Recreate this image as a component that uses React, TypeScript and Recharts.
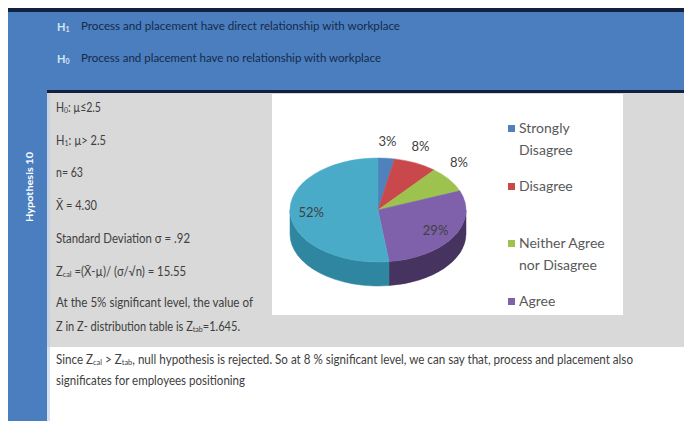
import React from "react";
import { PieChart, Pie, Cell, Legend } from "recharts";

const categories = ["Strongly Disagree", "Disagree", "Neither Agree nor Disagree", "Agree", "Strongly Agree"];
const percents = [3, 8, 8, 29, 52];
const topColors = ["#4F81BD", "#C9484B", "#9DC24E", "#7F60AA", "#4AABC9"];
const sideColors = ["#375F8E", "#8E2F31", "#6E8C33", "#46335F", "#2F86A0"];

const data = categories.map((name, i) => ({ name, value: percents[i] }));

const RY_RATIO = 52 / 88;
const DEPTH = 24;
const RAD = Math.PI / 180;

function pt(cx: number, cy: number, r: number, a: number): [number, number] {
  return [cx + r * Math.cos(a * RAD), cy - r * RY_RATIO * Math.sin(a * RAD)];
}

function TopSector(props: any) {
  const { cx, cy, outerRadius, startAngle, endAngle, fill } = props;
  const [x1, y1] = pt(cx, cy, outerRadius, startAngle);
  const [x2, y2] = pt(cx, cy, outerRadius, endAngle);
  const delta = Math.abs(endAngle - startAngle);
  const large = delta > 180 ? 1 : 0;
  const sweep = startAngle > endAngle ? 1 : 0;
  const d = `M${cx},${cy} L${x1},${y1} A${outerRadius},${outerRadius * RY_RATIO} 0 ${large} ${sweep} ${x2},${y2} Z`;
  return <path d={d} fill={fill} stroke={fill} strokeWidth={0.5} />;
}

function WallSector(props: any) {
  const { cx, cy, outerRadius, startAngle, endAngle, fill } = props;
  const r = outerRadius;
  const lo = Math.min(startAngle, endAngle);
  const hi = Math.max(startAngle, endAngle);
  const parts: React.ReactElement[] = [];
  for (let k = -2; k <= 2; k++) {
    const a = Math.max(lo, -180 + 360 * k);
    const b = Math.min(hi, 360 * k);
    if (b > a) {
      const [ax, ay] = pt(cx, cy, r, a);
      const [bx, by] = pt(cx, cy, r, b);
      const large = b - a > 180 ? 1 : 0;
      const d = `M${ax},${ay} A${r},${r * RY_RATIO} 0 ${large} 0 ${bx},${by} L${bx},${by + DEPTH} A${r},${r * RY_RATIO} 0 ${large} 1 ${ax},${ay + DEPTH} Z`;
      parts.push(<path key={k} d={d} fill={fill} stroke={fill} strokeWidth={0.5} />);
    }
  }
  return <g>{parts}</g>;
}

const renderLabel = (p: any) => {
  const { cx, cy, midAngle, outerRadius, percent, index } = p;
  const c = Math.cos(midAngle * RAD);
  const s = Math.sin(midAngle * RAD);
  let x: number;
  let y: number;
  if (percent < 0.1) {
    x = cx + outerRadius * c + 12 * c;
    y = cy - outerRadius * RY_RATIO * s - 17;
  } else {
    x = cx + 0.76 * outerRadius * c;
    y = cy - 0.76 * outerRadius * RY_RATIO * s;
  }
  return (
    <text x={x} y={y} textAnchor="middle" dominantBaseline="central" fill="#404040" fontSize={13} fontFamily="Lato, sans-serif">
      {`${percents[index]}%`}
    </text>
  );
};

const renderLegend = (props: any) => {
  const raw = (props.payload || []) as any[];
  const items = raw
    .filter((e) => topColors.includes(e.color))
    .sort((a, b) => categories.indexOf(a.value) - categories.indexOf(b.value));
  return (
    <div style={{ position: "relative", width: 115, height: 300 }}>
      {items.map((e: any, i: number) => (
        <div key={i} style={{ position: "absolute", top: i * 57.5, left: 0, display: "flex", alignItems: "flex-start" }}>
          <div style={{ width: 7, height: 7, background: e.color, marginTop: 8, marginRight: 4 }} />
          <div style={{ width: 95, fontFamily: "Lato, sans-serif", fontSize: 14, lineHeight: "22px", color: "#595959" }}>{e.value}</div>
        </div>
      ))}
    </div>
  );
};

const FONT = "Lato, 'Open Sans', sans-serif";

function T(props: any) {
  const { x, y, w, size = 12.5, fill = "#404040", weight, children } = props;
  return (
    <text x={x} y={y} textLength={w} lengthAdjust="spacingAndGlyphs" fontFamily={FONT} fontSize={size} fill={fill} fontWeight={weight} dominantBaseline="central">
      {children}
    </text>
  );
}

function Sub(props: any) {
  return (
    <>
      <tspan fontSize={8} dy={3}>{props.children}</tspan>
      <tspan dy={-3}>{props.after}</tspan>
    </>
  );
}

export default function App() {
  return (
    <div style={{ position: "absolute", left: 0, top: 0, width: 684, height: 421, background: "#fff", overflow: "hidden" }}>
      <svg width={684} height={421} style={{ position: "absolute", left: 0, top: 0 }}>
        <rect x={8} y={8} width={676} height={4} fill="#12213d" />
        <rect x={8} y={12} width={676} height={79} fill="#4a7ebe" />
        <rect x={8} y={12} width={39} height={409} fill="#4a7ebe" />
        <rect x={47} y={90} width={637} height={3} fill="#12213d" />
        <rect x={47} y={93} width={637} height={254} fill="#d9d9d9" />
        <rect x={47} y={347} width={637} height={74} fill="#ffffff" />
        <rect x={47} y={93} width={3} height={328} fill="#b9cde6" opacity={0.6} />

        <text x={57} y={26} fontFamily={FONT} fontSize={11} fontWeight="bold" fill="#d6e4f5" dominantBaseline="central">
          H<tspan fontSize={7} dy={3}>1</tspan>
        </text>
        <text x={57} y={58} fontFamily={FONT} fontSize={11} fontWeight="bold" fill="#d6e4f5" dominantBaseline="central">
          H<tspan fontSize={7} dy={3}>0</tspan>
        </text>
        <T x={81} y={25} w={319} size={12} fill="#172a4c">Process and placement have direct relationship with workplace</T>
        <T x={81} y={57} w={300} size={12} fill="#172a4c">Process and placement have no relationship with workplace</T>

        <text transform="translate(29,187) rotate(-90)" textAnchor="middle" dominantBaseline="central" fill="#ffffff" fontWeight="bold" fontSize={10} fontFamily={FONT} textLength={70} lengthAdjust="spacingAndGlyphs">
          Hypothesis 10
        </text>

        <T x={56} y={107} w={45}>H<Sub after=": µ≤2.5">0</Sub></T>
        <T x={56} y={140} w={50}>H<Sub after=": µ&gt; 2.5">1</Sub></T>
        <T x={56} y={172} w={27}>n= 63</T>
        <T x={56} y={205} w={41}>X̄ = 4.30</T>
        <T x={56} y={238} w={134}>Standard Deviation σ = .92</T>
        <T x={56} y={271} w={130}>Z<Sub after=" =(X̄-µ)/ (σ/√n) = 15.55">cal</Sub></T>
        <T x={56} y={302} w={197}>At the 5% significant level, the value of</T>
        <T x={56} y={326} w={184}>Z in Z- distribution table is Z<Sub after="=1.645.">tab</Sub></T>

        <T x={56} y={359} w={577}>Since Z<Sub after=" > Z">cal</Sub><Sub after=", null hypothesis is rejected. So at 8 % significant level, we can say that,  process and placement also">tab</Sub></T>
        <T x={56} y={380} w={189}>significates for employees positioning</T>
      </svg>

      <div style={{ position: "absolute", left: 272, top: 94, width: 351, height: 221, overflow: "hidden", background: "#ffffff" }}>
        <PieChart width={351} height={221} margin={{ top: 0, right: 0, bottom: 0, left: 0 }}>
          <Pie
            data={data}
            dataKey="value"
            nameKey="name"
            cx={106}
            cy={116}
            outerRadius={88}
            startAngle={90}
            endAngle={-270}
            isAnimationActive={false}
            legendType="none"
            stroke="none"
            shape={WallSector}
            inactiveShape={WallSector}
            activeShape={WallSector}
          >
            {data.map((d, i) => (
              <Cell key={d.name} fill={sideColors[i]} />
            ))}
          </Pie>
          <Pie
            data={data}
            dataKey="value"
            nameKey="name"
            cx={106}
            cy={116}
            outerRadius={88}
            startAngle={90}
            endAngle={-270}
            isAnimationActive={false}
            stroke="none"
            label={renderLabel}
            labelLine={false}
            shape={TopSector}
            inactiveShape={TopSector}
            activeShape={TopSector}
          >
            {data.map((d, i) => (
              <Cell key={d.name} fill={topColors[i]} />
            ))}
          </Pie>
          <Legend
            layout="vertical"
            align="right"
            verticalAlign="top"
            itemSorter={null as any}
            content={renderLegend}
            wrapperStyle={{ position: "absolute", left: 236, top: 23, width: 115 }}
          />
        </PieChart>
      </div>
    </div>
  );
}
